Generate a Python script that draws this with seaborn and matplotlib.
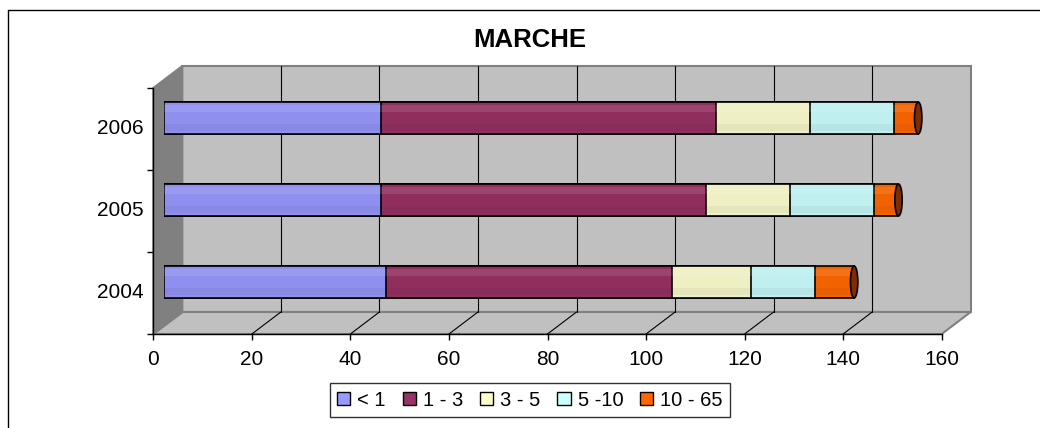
import matplotlib
matplotlib.use("Agg")
import matplotlib.pyplot as plt
from matplotlib.lines import Line2D
from matplotlib.patches import Ellipse, Patch, Polygon, Rectangle
from matplotlib.transforms import ScaledTranslation
import pandas as pd
import seaborn as sns

# data (top to bottom)
years = ["2006", "2005", "2004"]
series = ["< 1", "1 - 3", "3 - 5", "5 -10", "10 - 65"]
v_lt1 = [44, 44, 45]
v_1_3 = [68, 66, 58]
v_3_5 = [19, 17, 16]
v_5_10 = [17, 17, 13]
v_10_65 = [5, 5, 8]
x_ticks = [0, 20, 40, 60, 80, 100, 120, 140, 160]

legend_colors = ["#9999FF", "#993366", "#FFFFCC", "#CCFFFF", "#FF6600"]
bar_colors = ["#8F8FEF", "#902F5E", "#EFEFC4", "#BFEFEF", "#F26200"]
cap_color = "#7F2C00"

sns.set_style("white", {"text.color": "black", "xtick.color": "black",
                        "ytick.color": "black", "axes.labelcolor": "black"})
plt.rcParams["font.family"] = ["Liberation Sans", "DejaVu Sans"]

df = pd.DataFrame({"anno": years, series[0]: v_lt1, series[1]: v_1_3,
                   series[2]: v_3_5, series[3]: v_5_10, series[4]: v_10_65})
cum = df[series].cumsum(axis=1)
cum["anno"] = years

W, H = 1040, 428
fig = plt.figure(figsize=(W / 100, H / 100), dpi=100)

# front plane of the 3d box, in pixels
x0, x1 = 153.3, 941.7
y_bot, y_top = 334, 88
dx_px, dy_px = 29, 22
aw, ah = x1 - x0, y_bot - y_top
dxa, dya = dx_px / aw, dy_px / ah

ax = fig.add_axes([x0 / W, 1 - y_bot / H, aw / W, ah / H])
ax.patch.set_alpha(0)
ax.set_xlim(0, 160)
ax.set_ylim(2.5, -0.5)

wall_grey = "#C0C0C0"
edge_grey = "#808080"
# back wall
ax.add_patch(Rectangle((dxa, dya), 1, 1, transform=ax.transAxes, facecolor=wall_grey,
                       edgecolor=edge_grey, lw=1.5, clip_on=False, zorder=0.3))
# floor
ax.add_patch(Polygon([(0, 0), (1, 0), (1 + dxa, dya), (dxa, dya)], transform=ax.transAxes,
                     facecolor=wall_grey, edgecolor=edge_grey, lw=1.5, clip_on=False, zorder=0.4))
# side wall
ax.add_patch(Polygon([(0, 0), (0, 1), (dxa, 1 + dya), (dxa, dya)], transform=ax.transAxes,
                     facecolor=edge_grey, edgecolor=edge_grey, lw=1.5, clip_on=False, zorder=0.5))
for v in x_ticks[1:-1]:
    xa = v / 160
    ax.plot([xa + dxa, xa + dxa], [dya, 1 + dya], transform=ax.transAxes,
            color="black", lw=0.8, clip_on=False, zorder=0.6)
    ax.plot([xa, xa + dxa], [0, dya], transform=ax.transAxes,
            color="black", lw=0.8, clip_on=False, zorder=0.6)

for side in ["top", "right"]:
    ax.spines[side].set_visible(False)
for side in ["left", "bottom"]:
    ax.spines[side].set_color("black")
    ax.spines[side].set_linewidth(1)

ax.set_xticks(x_ticks)
ax.set_yticks([0, 1, 2], labels=years)
ax.set_yticks([-0.5, 0.5, 1.5, 2.5], minor=True)
ax.tick_params(axis="x", which="major", bottom=True, direction="out", length=4.5,
               width=1, color="black", pad=7, labelsize=15)
ax.tick_params(axis="y", which="major", left=True, length=0, pad=7, labelsize=15)
ax.tick_params(axis="y", which="minor", left=True, direction="out", length=4.5,
               width=1, color="black")
ax.set_xlabel("")
ax.set_ylabel("")
lift = ScaledTranslation(0, 3 / 100, fig.dpi_scale_trans)
for lab in ax.get_yticklabels():
    lab.set_transform(lab.get_transform() + lift)

# bars sit half way into the box
ax_bar = fig.add_axes([(x0 + 11) / W, 1 - (y_bot - 11) / H, aw / W, ah / H])
for i in reversed(range(len(series))):
    sns.barplot(data=cum, x=series[i], y="anno", order=years, orient="h",
                color=bar_colors[i], saturation=1, width=0.39,
                edgecolor="black", linewidth=1.2, ax=ax_bar)

# soft cylinder shading over the full length of each bar (first patches = totals)
for p in list(ax_bar.patches)[:len(years)]:
    bx, by, bw, bh = p.get_x(), p.get_y(), p.get_width(), p.get_height()
    ax_bar.add_patch(Rectangle((bx, by + 0.1 * bh), bw, 0.22 * bh, facecolor="white",
                               alpha=0.1, lw=0, zorder=4))
    ax_bar.add_patch(Rectangle((bx, by + 0.7 * bh), bw, 0.22 * bh, facecolor="black",
                               alpha=0.04, lw=0, zorder=4))

for j, total in enumerate(cum[series[-1]]):
    ax_bar.add_patch(Ellipse((total, j), width=1.5, height=0.39, facecolor=cap_color,
                             edgecolor="black", lw=1.2, zorder=5))
ax_bar.set_xlim(0, 160)
ax_bar.set_ylim(2.5, -0.5)
ax_bar.axis("off")

fig.text(530 / W, 1 - 40 / H, "MARCHE", ha="center", va="center",
         fontsize=18.5, fontweight="bold")

handles = [Patch(facecolor=c, edgecolor="black", lw=1) for c in legend_colors]
leg = fig.legend(handles, series, loc="center", bbox_to_anchor=(530 / W, 1 - 400 / H),
                 ncol=5, fontsize=14.5, frameon=True, fancybox=False, edgecolor="black",
                 handlelength=0.65, handleheight=0.65, handletextpad=0.35,
                 columnspacing=0.84, borderpad=0.35)
leg.get_frame().set_linewidth(1)

# chart area border (left and top visible)
fig.add_artist(Line2D([7.5 / W, 7.5 / W], [0, 1 - 10 / H], color="black", lw=1))
fig.add_artist(Line2D([7.5 / W, 1], [1 - 10 / H, 1 - 10 / H], color="black", lw=1))

fig.savefig("out.png", dpi=100)
